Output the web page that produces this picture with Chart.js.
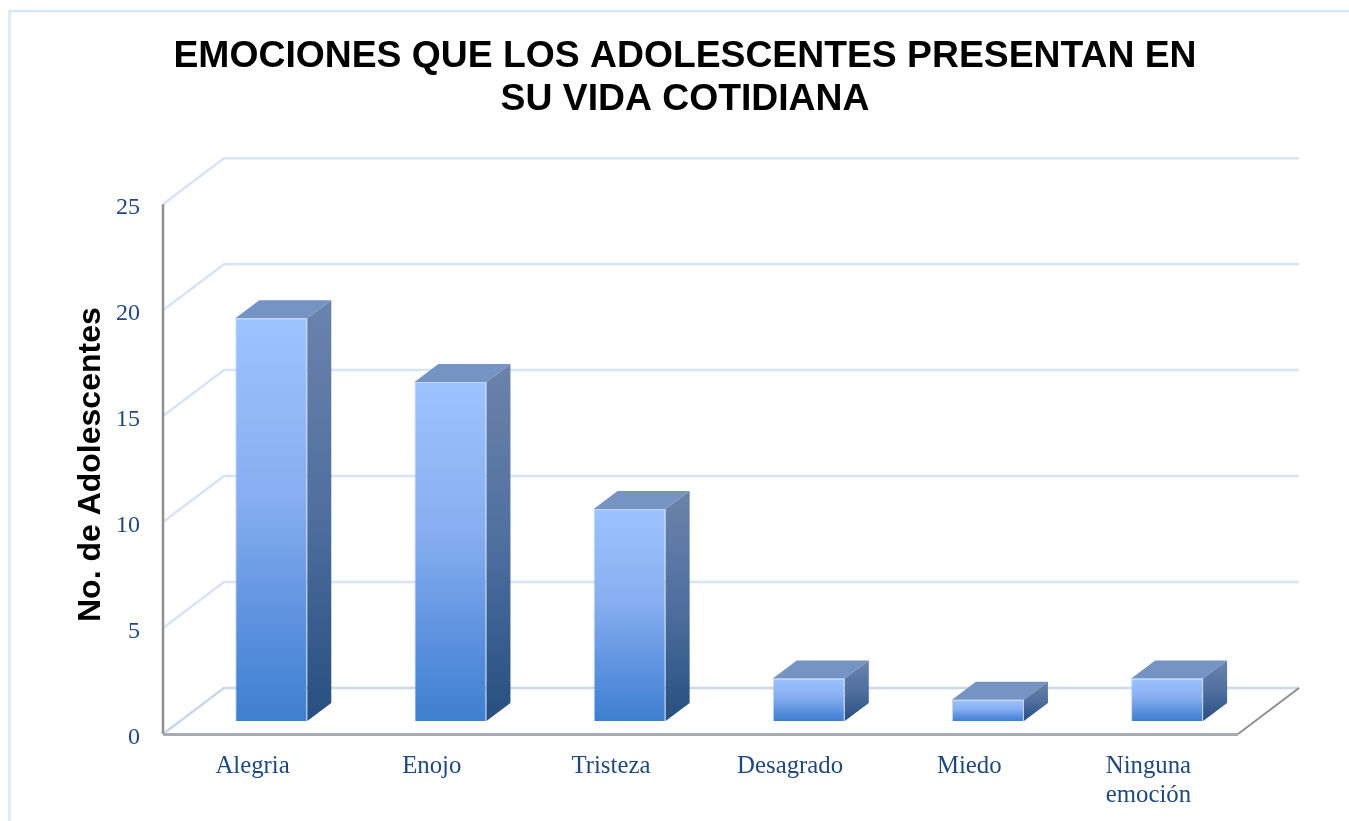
<!DOCTYPE html>
<html lang="es">
<head>
<meta charset="utf-8">
<title>Emociones</title>
<script src="https://cdn.jsdelivr.net/npm/chart.js@4"></script>
<style>
  html, body { margin: 0; background: #fff; overflow: hidden; }
  canvas { display: block; }
</style>
</head>
<body>
<canvas id="emociones-chart" width="1349" height="821"></canvas>
<script>
const titleLines = ["EMOCIONES QUE LOS ADOLESCENTES PRESENTAN EN", "SU VIDA COTIDIANA"];
const yAxisTitle = "No. de Adolescentes";
const categories = ["Alegria", "Enojo", "Tristeza", "Desagrado", "Miedo", ["Ninguna", "emoción"]];
const adolescentes = [19, 16, 10, 2, 1, 2];

const yMax = 25;
const yStep = 5;

// depth of the floor/walls, and of the bars standing on it
const wallDepth = { x: 61, y: -46 };
const barInset = { x: 18.7, y: -13 };
const barDepth = { x: 24, y: -18 };

const labelColor = "#1f497d";
const serif = "'Liberation Serif', serif";
const sans = "'Liberation Sans', Arial, sans-serif";

function verticalGradient(ctx, top, bottom, stops) {
  const g = ctx.createLinearGradient(0, top, 0, bottom);
  stops.forEach(([at, color]) => g.addColorStop(at, color));
  return g;
}

function frontFill(context) {
  const { chart, parsed } = context;
  const fallback = "#6f9fe6";
  if (!parsed) return fallback;
  const top = chart.scales.y.getPixelForValue(parsed.y);
  const bottom = chart.scales.y.getPixelForValue(0);
  // options also get resolved once before the scales have pixels
  if (!Number.isFinite(top) || !Number.isFinite(bottom)) return fallback;
  return verticalGradient(chart.ctx, top, bottom, [
    [0, "#9dc3ff"],
    [0.45, "#86aef0"],
    [0.75, "#5d92df"],
    [1, "#3e7fd0"],
  ]);
}

// walls, floor and axis lines behind the bars, plus the outer frame
const walls3d = {
  id: "walls3d",
  beforeDatasetsDraw(chart) {
    const { ctx, chartArea, scales } = chart;
    const y = scales.y;
    const { left, right } = chartArea;

    ctx.save();
    ctx.strokeStyle = "#d9e6f7";
    ctx.lineWidth = 2.5;
    ctx.strokeRect(9.5, 11, 1500, 1000);

    ctx.lineWidth = 2.5;
    for (let v = 0; v <= yMax; v += yStep) {
      const py = y.getPixelForValue(v);
      ctx.strokeStyle = v === 0 ? "#cbd8e8" : "#d6e4f5";
      ctx.beginPath();
      ctx.moveTo(left, py);
      ctx.lineTo(left + wallDepth.x, py + wallDepth.y);
      ctx.lineTo(right + wallDepth.x, py + wallDepth.y);
      ctx.stroke();
    }

    const y0 = y.getPixelForValue(0);
    const yTop = y.getPixelForValue(yMax);
    ctx.strokeStyle = "#8f8f8f";
    ctx.lineWidth = 2.5;
    ctx.beginPath();
    ctx.moveTo(left, yTop);
    ctx.lineTo(left, y0);
    ctx.stroke();

    ctx.strokeStyle = "#a9abb1";
    ctx.lineWidth = 3;
    ctx.beginPath();
    ctx.moveTo(left, y0 + 0.5);
    ctx.lineTo(right, y0 + 0.5);
    ctx.stroke();

    ctx.strokeStyle = "#8f8f8f";
    ctx.lineWidth = 2;
    ctx.beginPath();
    ctx.moveTo(right, y0);
    ctx.lineTo(right + wallDepth.x, y0 + wallDepth.y);
    ctx.stroke();
    ctx.restore();

    // bars stand a bit inside the floor
    ctx.save();
    ctx.translate(barInset.x, barInset.y);
  },
  afterDatasetsDraw(chart) {
    const { ctx } = chart;
    chart.getDatasetMeta(0).data.forEach((bar) => {
      const halfW = bar.width / 2;
      const l = bar.x - halfW;
      const r = bar.x + halfW;
      const t = bar.y;
      const b = bar.base;

      // top face
      ctx.fillStyle = "#7594c3";
      ctx.beginPath();
      ctx.moveTo(l, t);
      ctx.lineTo(l + barDepth.x, t + barDepth.y);
      ctx.lineTo(r + barDepth.x, t + barDepth.y);
      ctx.lineTo(r, t);
      ctx.closePath();
      ctx.fill();

      // right face
      ctx.fillStyle = verticalGradient(ctx, t + barDepth.y, b, [
        [0, "#6b83ab"],
        [0.5, "#4f6f9f"],
        [1, "#264f80"],
      ]);
      ctx.beginPath();
      ctx.moveTo(r, t);
      ctx.lineTo(r + barDepth.x, t + barDepth.y);
      ctx.lineTo(r + barDepth.x, b + barDepth.y);
      ctx.lineTo(r, b);
      ctx.closePath();
      ctx.fill();
    });
    ctx.restore();
  },
};

new Chart(document.getElementById("emociones-chart"), {
  type: "bar",
  data: {
    labels: categories,
    datasets: [
      {
        label: "Adolescentes",
        data: adolescentes,
        backgroundColor: frontFill,
        borderColor: "rgba(150,190,240,0.6)",
        borderWidth: 1,
        barPercentage: 0.402,
        categoryPercentage: 1,
        clip: false,
      },
    ],
  },
  options: {
    responsive: false,
    animation: false,
    layout: { padding: { left: 21, right: 0, top: 0, bottom: 0 } },
    plugins: {
      legend: { display: false },
      tooltip: { enabled: false },
      title: {
        display: true,
        text: titleLines,
        color: "#000",
        font: { family: sans, size: 37.3, weight: "bold", lineHeight: 1.155 },
        padding: { top: 35, bottom: 83 },
      },
    },
    scales: {
      x: {
        grid: { display: false },
        border: { display: false },
        ticks: {
          color: labelColor,
          font: { family: serif, size: 24.8, lineHeight: 1.17 },
          padding: 10,
          maxRotation: 0,
          autoSkip: false,
        },
        afterFit(scale) {
          scale.height = 87;
        },
      },
      y: {
        min: 0,
        max: yMax,
        grid: { display: false },
        border: { display: false },
        ticks: {
          stepSize: yStep,
          color: labelColor,
          font: { family: serif, size: 24 },
          padding: 15,
          labelOffset: 4,
        },
        title: {
          display: true,
          // the leading space nudges the centred text up a little
          text: " " + yAxisTitle,
          color: "#000",
          font: { family: sans, size: 32, weight: "bold" },
          padding: { top: 51, bottom: 0 },
        },
        afterFit(scale) {
          scale.width = 142;
        },
      },
      // empty axis, only reserves the space right of the floor
      rightSpace: {
        position: "right",
        grid: { display: false },
        border: { display: false },
        ticks: { display: false },
        afterFit(scale) {
          scale.width = 111;
        },
      },
    },
  },
  plugins: [walls3d],
});
</script>
</body>
</html>
